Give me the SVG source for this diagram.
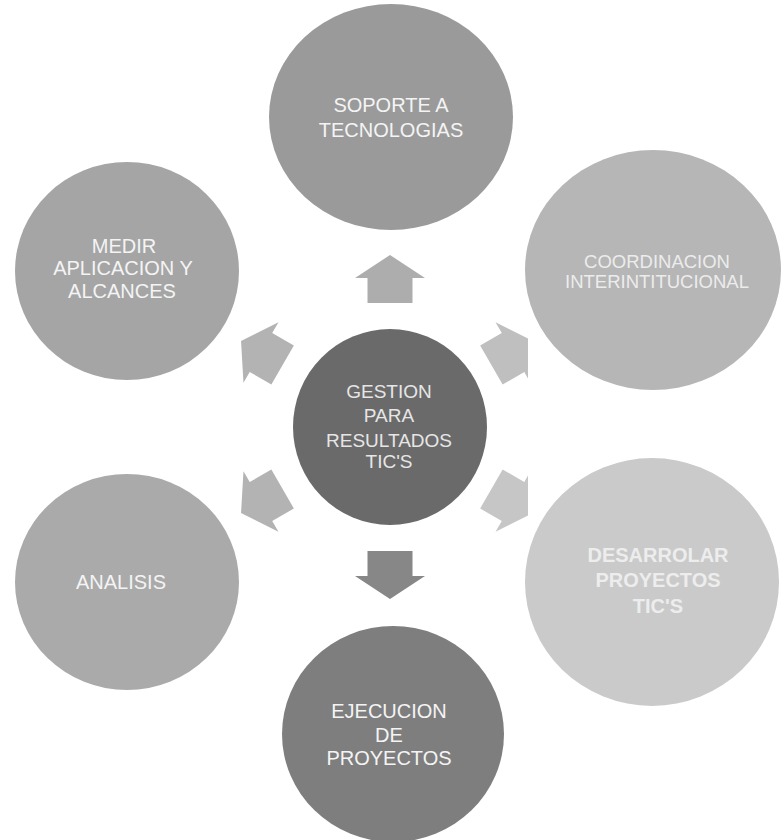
<svg xmlns="http://www.w3.org/2000/svg" width="781" height="840" viewBox="0 0 781 840">
<style>
.t{font-family:"Liberation Sans",Arial,sans-serif;font-size:20px;text-anchor:middle;fill:#f4f4f4}
</style>
<defs>
<polygon id="arr" points="124,-22.5 149,-22.5 149,-35 172,0 149,35 149,22.5 124,22.5"/>
<clipPath id="rc"><rect x="0" y="0" width="528" height="840"/></clipPath>
</defs>
<rect width="781" height="840" fill="#ffffff"/>
<g id="connectors">
<use href="#arr" transform="translate(390 427) rotate(-90)" fill="#adadad"/>
<use href="#arr" transform="translate(390 427) rotate(90)" fill="#878787"/>
<use href="#arr" transform="translate(390 427) rotate(-150)" fill="#b3b3b3"/>
<use href="#arr" transform="translate(390 427) rotate(150)" fill="#b3b3b3"/>
<g clip-path="url(#rc)">
<use href="#arr" transform="translate(384 427) rotate(-30)" fill="#bfbfbf"/>
<use href="#arr" transform="translate(384 427) rotate(30)" fill="#c6c6c6"/>
</g>
</g>
<g id="soporte">
<ellipse cx="391" cy="117" rx="122" ry="113" fill="#9a9a9a"/>
<text class="t" x="391" y="112">SOPORTE A</text>
<text class="t" x="391" y="137">TECNOLOGIAS</text>
</g>
<g id="coordinacion">
<ellipse cx="653" cy="270" rx="128" ry="120" fill="#b6b6b6"/>
<text class="t" x="657" y="268" style="font-size:18.5px;fill:#ececec">COORDINACION</text>
<text class="t" x="657" y="288" style="font-size:18.5px;fill:#ececec">INTERINTITUCIONAL</text>
</g>
<g id="desarrolar">
<ellipse cx="652" cy="582" rx="127" ry="124" fill="#cacaca"/>
<text class="t" x="658" y="562" style="font-weight:bold;fill:#ededed">DESARROLAR</text>
<text class="t" x="658" y="587" style="font-weight:bold;fill:#ededed">PROYECTOS</text>
<text class="t" x="658" y="613" style="font-weight:bold;fill:#ededed">TIC'S</text>
</g>
<g id="ejecucion">
<ellipse cx="393" cy="734" rx="111" ry="108" fill="#7e7e7e"/>
<text class="t" x="389" y="718">EJECUCION</text>
<text class="t" x="389" y="742">DE</text>
<text class="t" x="389" y="765">PROYECTOS</text>
</g>
<g id="analisis">
<ellipse cx="127" cy="582" rx="112" ry="108" fill="#aaaaaa"/>
<text class="t" x="121" y="589">ANALISIS</text>
</g>
<g id="medir">
<ellipse cx="127" cy="271" rx="112" ry="109" fill="#a5a5a5"/>
<text class="t" x="124" y="253">MEDIR</text>
<text class="t" x="123" y="275">APLICACION Y</text>
<text class="t" x="122" y="298">ALCANCES</text>
</g>
<g id="gestion">
<ellipse cx="390" cy="427" rx="97" ry="98" fill="#6a6a6a"/>
<text class="t" x="389" y="398" style="font-size:19px;fill:#e6e6e6">GESTION</text>
<text class="t" x="389" y="422" style="font-size:19px;fill:#e6e6e6">PARA</text>
<text class="t" x="389" y="447" style="font-size:19px;fill:#e6e6e6">RESULTADOS</text>
<text class="t" x="389" y="468" style="font-size:19px;fill:#e6e6e6">TIC'S</text>
</g>
</svg>
